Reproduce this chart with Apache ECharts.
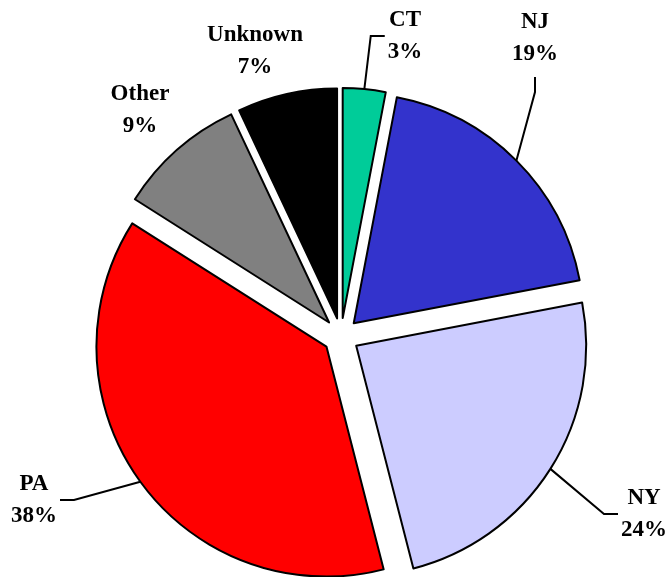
<!DOCTYPE html>
<html>
<head>
<meta charset="utf-8">
<script src="https://cdn.jsdelivr.net/npm/echarts@6/dist/echarts.min.js"></script>
<style>
  html, body { margin: 0; padding: 0; background: #fff; }
  #chart { width: 669px; height: 577px; }
</style>
</head>
<body>
<div id="chart"></div>
<script>
// data (percent shares, clockwise from 12 o'clock)
const states = ['CT', 'NJ', 'NY', 'PA', 'Other', 'Unknown']
const shares = [3, 19, 24, 38, 9, 7]
const colors = ['#00cc99', '#3333cc', '#ccccff', '#ff0000', '#808080', '#000000']

// label placement (centre of the text block) and which side the leader line meets
const labelPos = {
  CT: [405, 36],
  NJ: [535, 38],
  NY: [644, 514],
  PA: [34, 500],
  Other: [140, 110],
  Unknown: [255, 51]
}
const leaderSide = { CT: 'left', NJ: 'bottom', NY: 'left', PA: 'right' }

const CX = 341, CY = 336, R = 230, EXPLODE = 18
const FONT = 'bold 23px "Liberation Serif"'
const LINE_H = 32

const ctx = document.createElement('canvas').getContext('2d')
ctx.font = FONT
function blockWidth(name, val) {
  return Math.max(ctx.measureText(name).width, ctx.measureText(val + '%').width)
}

const chart = echarts.init(document.getElementById('chart'))

const total = shares.reduce((a, b) => a + b, 0)
let acc = 0
const series = states.map((name, i) => {
  // every slice is its own pie, pushed out along its bisector
  const mid = (acc + shares[i] / 2) / total * 2 * Math.PI
  acc += shares[i]
  const cx = CX + EXPLODE * Math.sin(mid)
  const cy = CY - EXPLODE * Math.cos(mid)
  const edge = [cx + R * Math.sin(mid), cy - R * Math.cos(mid)]
  const side = leaderSide[name]
  const p = labelPos[name]
  const w = blockWidth(name, shares[i]), h = LINE_H * 2
  let pts = null
  if (side === 'left') {
    pts = [edge, [p[0] - w / 2 - 17, p[1]], [p[0] - w / 2 - 3, p[1]]]
  } else if (side === 'right') {
    pts = [edge, [p[0] + w / 2 + 17, p[1]], [p[0] + w / 2 + 3, p[1]]]
  } else if (side === 'bottom') {
    pts = [edge, [p[0], p[1] + h / 2 + 22], [p[0], p[1] + h / 2 + 7]]
  }
  return {
    type: 'pie',
    center: [cx, cy],
    radius: R,
    startAngle: 90,
    clockwise: true,
    avoidLabelOverlap: false,
    emphasis: { disabled: true },
    labelLayout: function (params) {
      if (params.dataIndex !== i) return {}
      const out = { x: p[0], y: p[1], align: 'center', verticalAlign: 'middle' }
      if (pts) out.labelLinePoints = pts
      return out
    },
    data: states.map((s, j) => j === i ? {
      name: s,
      value: shares[j],
      itemStyle: { color: colors[j], borderColor: '#000', borderWidth: 2 },
      label: {
        show: true,
        formatter: '{b}\n{c}%',
        fontFamily: 'Liberation Serif',
        fontWeight: 'bold',
        fontSize: 23,
        lineHeight: LINE_H,
        color: '#000'
      },
      labelLine: {
        show: !!side,
        length: 20,
        length2: 14,
        lineStyle: { color: '#000', width: 2 }
      }
    } : {
      name: s,
      value: shares[j],
      itemStyle: { color: 'rgba(0,0,0,0)', borderWidth: 0 },
      label: { show: false },
      labelLine: { show: false }
    }),
    silent: true
  }
})

chart.setOption({
  animation: false,
  backgroundColor: '#fff',
  series: series
})
</script>
</body>
</html>
